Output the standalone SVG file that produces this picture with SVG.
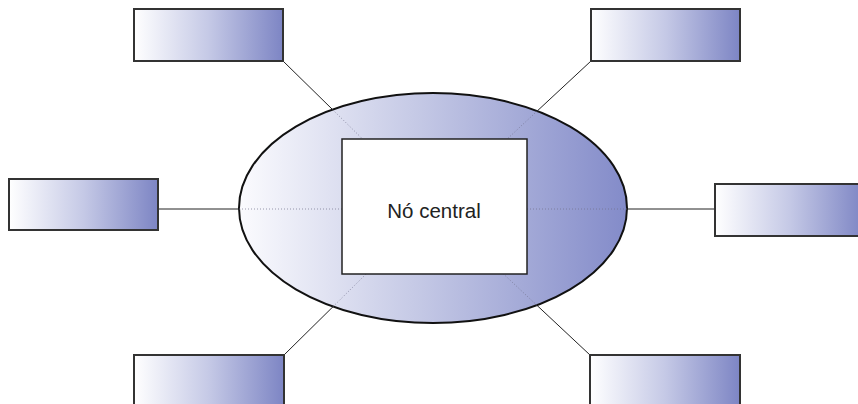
<svg xmlns="http://www.w3.org/2000/svg" width="858" height="404" viewBox="0 0 858 404">
  <defs>
    <linearGradient id="boxGrad" x1="0" y1="0" x2="1" y2="0">
      <stop offset="0" stop-color="#ffffff"/>
      <stop offset="0.5" stop-color="#c5c9e6"/>
      <stop offset="1" stop-color="#7d85c4"/>
    </linearGradient>
    <linearGradient id="ellGrad" x1="0" y1="0" x2="1" y2="0">
      <stop offset="0" stop-color="#fbfbfe"/>
      <stop offset="0.45" stop-color="#c6cae6"/>
      <stop offset="1" stop-color="#838bc9"/>
    </linearGradient>
    <style>
      .box { fill: url(#boxGrad); stroke: #333333; stroke-width: 2; }
      .link { stroke: #222222; stroke-width: 1; fill: none; }
      .inner { stroke: #6f6f8a; stroke-width: 1; stroke-dasharray: 1 2; fill: none; opacity: 0.7; }
      .label { font-family: "Liberation Sans", Arial, sans-serif; font-size: 20.5px; fill: #222222; }
    </style>
  </defs>
  <rect width="858" height="404" fill="#ffffff"/>
  <g id="connectors">
    <line class="link" x1="283" y1="61" x2="332.6" y2="109.6"/>
    <line class="link" x1="591" y1="61" x2="537.2" y2="111"/>
    <line class="link" x1="158" y1="209" x2="239" y2="209"/>
    <line class="link" x1="627" y1="209" x2="715" y2="209"/>
    <line class="link" x1="284" y1="355" x2="333.1" y2="306.6"/>
    <line class="link" x1="590" y1="355" x2="536.8" y2="305.2"/>
  </g>
  <g id="central">
    <ellipse cx="433" cy="208" rx="194" ry="115" fill="url(#ellGrad)" stroke="#111111" stroke-width="2"/>
    <g id="inner-links">
      <line class="inner" x1="332.6" y1="109.6" x2="362.6" y2="139"/>
      <line class="inner" x1="537.2" y1="111" x2="507.2" y2="139"/>
      <line class="inner" x1="239" y1="209" x2="342" y2="209"/>
      <line class="inner" x1="527" y1="209" x2="627" y2="209"/>
      <line class="inner" x1="333.1" y1="306.6" x2="366.1" y2="274"/>
      <line class="inner" x1="536.8" y1="305.2" x2="503.5" y2="274"/>
    </g>
    <rect x="342" y="139" width="185" height="135" fill="#ffffff" stroke="#222222" stroke-width="1.5"/>
    <text class="label" x="434" y="218" text-anchor="middle">Nó central</text>
  </g>
  <g id="node-top-left"><rect class="box" x="134" y="9" width="149" height="52"/></g>
  <g id="node-top-right"><rect class="box" x="591" y="9" width="149" height="52"/></g>
  <g id="node-left"><rect class="box" x="9" y="179" width="149" height="51"/></g>
  <g id="node-right"><rect class="box" x="715" y="184" width="149" height="52"/></g>
  <g id="node-bottom-left"><rect class="box" x="134" y="355" width="150" height="52"/></g>
  <g id="node-bottom-right"><rect class="box" x="590" y="355" width="150" height="52"/></g>
</svg>
